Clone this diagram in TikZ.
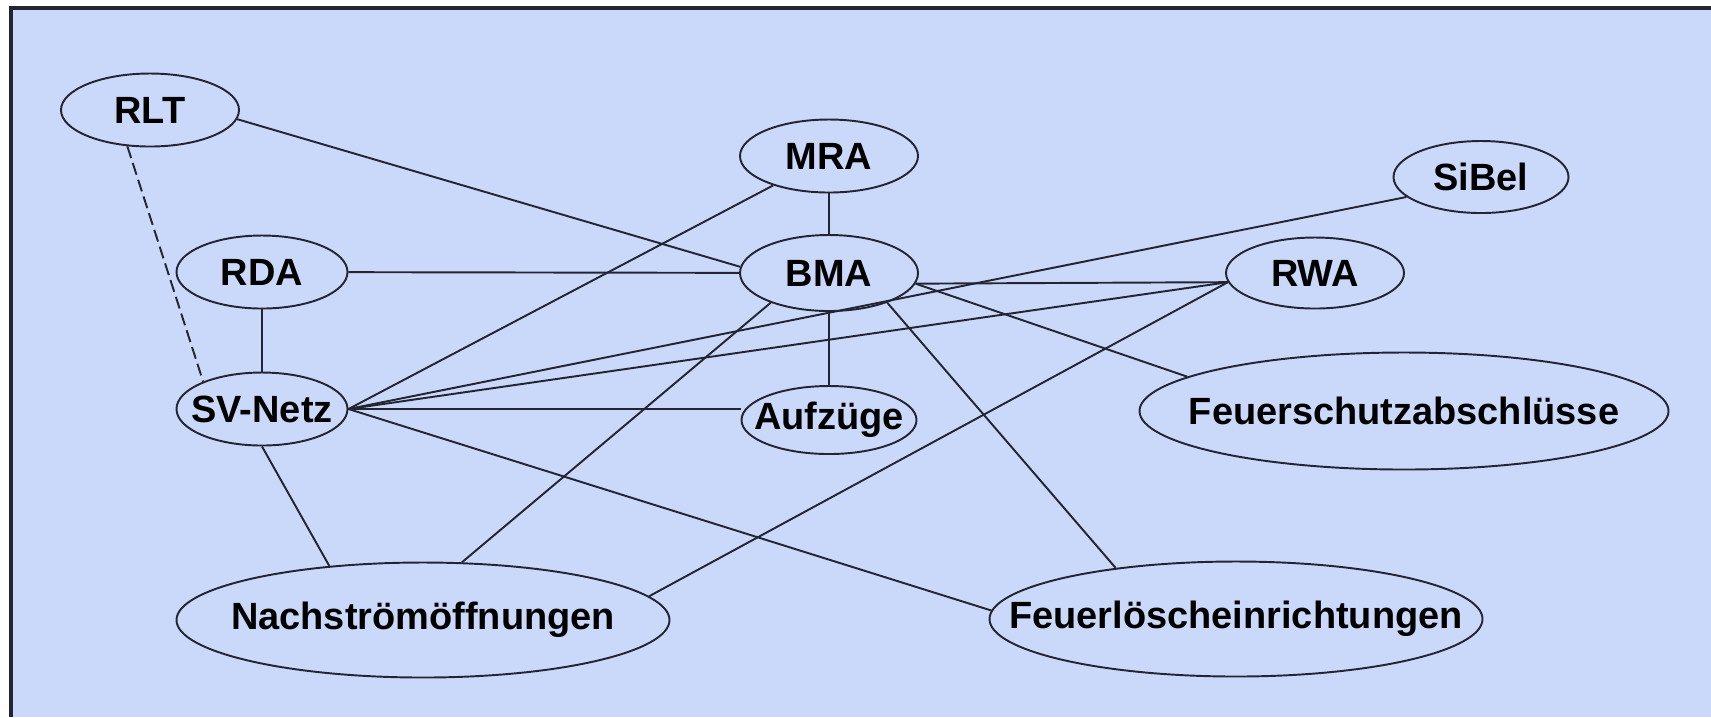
\documentclass[tikz,border=0pt]{standalone}
\usepackage{fontspec}
\setmainfont{Liberation Sans}
\usetikzlibrary{shapes.geometric}
\definecolor{bgblue}{RGB}{202,217,250}
\definecolor{rimgray}{RGB}{35,38,50}
\newcommand{\vlabel}[1]{\makebox[0pt]{#1}}

\begin{document}
\begin{tikzpicture}[x=0.1mm,y=-0.1mm]
	 \tikzstyle{vertex}=[ellipse,draw=rimgray,line width=0.55pt,inner sep=0pt,minimum width=17.8mm,minimum height=7.3mm,font=\fontsize{10.8}{13}\selectfont\bfseries]
	 \tikzstyle{wide vertex} = [vertex, minimum width=49.3mm, minimum height=11.5mm]
	 \tikzstyle{edge} = [draw,line width=0.55pt,-,rimgray]
	 \tikzstyle{weak edge} = [edge,dash pattern=on 3.5pt off 1.5pt]
	 \useasboundingbox (0,0) rectangle (1711,717);
	 \fill[bgblue] (11,8) rectangle (1711,717);
	 \draw[line width=0.9pt,rimgray] (11,717) -- (11,8) -- (1711,8);
	 \node[vertex] (rlt) at (150,110) {\vlabel{RLT}};
	 \node[vertex] (mra) at (829,156) {\vlabel{MRA}};
	 \node[vertex, minimum width=17.5mm, minimum height=7.2mm] (sibel) at (1481,177) {\vlabel{SiBel}};
	 \node[vertex, minimum width=17.1mm] (rda) at (262,272) {\vlabel{RDA}};
	 \node[vertex, minimum height=7.6mm] (bma) at (829,273) {\vlabel{BMA}};
	 \node[vertex, minimum height=7.1mm] (rwa) at (1315,273) {\vlabel{RWA}};
	 \node[vertex, minimum width=17.1mm] (sv) at (262,409) {\vlabel{SV-Netz}};
	 \node[vertex, minimum width=17.5mm, minimum height=6.8mm] (aufz) at (829,420) {\vlabel{Aufzüge}};
	 \node[wide vertex, minimum width=52.9mm, minimum height=11.7mm] (fs) at (1404,411) {\vlabel{Feuerschutzabschlüsse}};
	 \node[wide vertex] (nach) at (423,620) {\vlabel{Nachströmöffnungen}};
	 \node[wide vertex] (fl) at (1236,619) {\vlabel{Feuerlöscheinrichtungen}};
	 \draw[weak edge] (rlt.-122) -- (sv.155);
	 \draw[edge] (rlt.-6) -- (bma.176);
	 \draw[edge] (mra) -- (bma);
	 \draw[edge] (mra) -- (sv.east);
	 \draw[edge] (rda) -- (bma);
	 \draw[edge] (rda) -- (sv);
	 \draw[edge] (sibel.-165) -- (sv.east);
	 \draw[edge] (bma.-7) -- (rwa.186);
	 \draw[edge] (bma) -- (aufz);
	 \draw[edge] (bma.-7) -- (fs.171);
	 \draw[edge] (bma.-27) -- (fl.157);
	 \draw[edge] (bma.-153) -- (nach.56);
	 \draw[edge] (rwa.186) -- (sv.east);
	 \draw[edge] (rwa.186) -- (nach.6);
	 \draw[edge] (sv.east) -- (sv.east -| aufz.west);
	 \draw[edge] (sv.east) -- (fl.178);
	 \draw[edge] (sv.south) -- (nach.150);
 \end{tikzpicture}
\end{document}
